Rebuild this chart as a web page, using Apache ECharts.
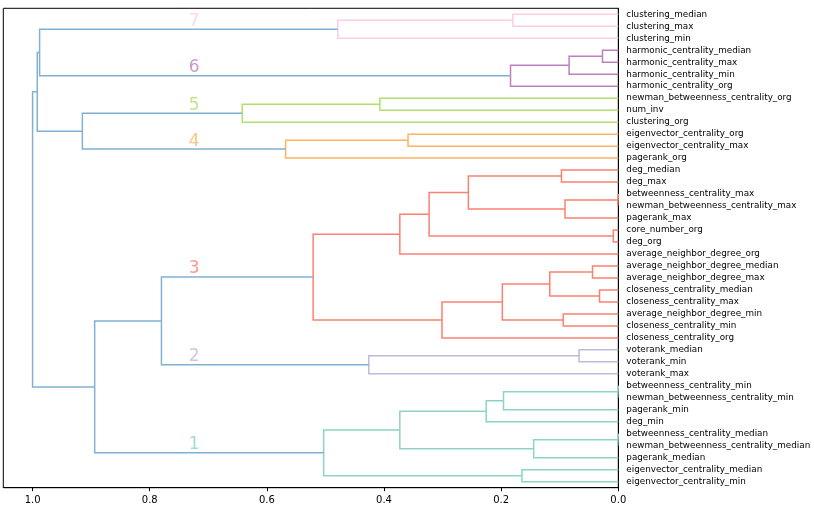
<!DOCTYPE html>
<html><head><meta charset="utf-8">
<script src="https://cdn.jsdelivr.net/npm/echarts@6/dist/echarts.min.js"></script>
<style>html,body{margin:0;padding:0;background:#fff}#c{width:814px;height:516px}</style>
</head><body><div id="c"></div>
<script>
// Leaves, listed top to bottom
const leafLabels = [
  'clustering_median','clustering_max','clustering_min',
  'harmonic_centrality_median','harmonic_centrality_max','harmonic_centrality_min','harmonic_centrality_org',
  'newman_betweenness_centrality_org','num_inv','clustering_org',
  'eigenvector_centrality_org','eigenvector_centrality_max','pagerank_org',
  'deg_median','deg_max','betweenness_centrality_max','newman_betweenness_centrality_max','pagerank_max',
  'core_number_org','deg_org','average_neighbor_degree_org',
  'average_neighbor_degree_median','average_neighbor_degree_max','closeness_centrality_median','closeness_centrality_max',
  'average_neighbor_degree_min','closeness_centrality_min','closeness_centrality_org',
  'voterank_median','voterank_min','voterank_max',
  'betweenness_centrality_min','newman_betweenness_centrality_min','pagerank_min','deg_min',
  'betweenness_centrality_median','newman_betweenness_centrality_median','pagerank_median',
  'eigenvector_centrality_median','eigenvector_centrality_min'
];
// Cluster id of each leaf
const leafCluster = [7,7,7, 6,6,6,6, 5,5,5, 4,4,4,
  3,3,3,3,3,3,3,3,3,3,3,3,3,3,3, 2,2,2, 1,1,1,1,1,1,1,1,1];
// Linkage: pairs (index < 40 = leaf, otherwise 40 + merge index) and heights
const mergePairs = [
  [0,1],[40,2],[3,4],[42,5],[43,6],[41,44],
  [7,8],[46,9],[10,11],[48,12],[47,49],[45,50],
  [13,14],[15,16],[53,17],[52,54],[18,19],[55,56],[57,20],
  [21,22],[23,24],[59,60],[25,26],[61,62],[63,27],[58,64],
  [28,29],[66,30],[65,67],
  [31,32],[69,33],[70,34],[35,36],[72,37],[71,73],[38,39],[74,75],
  [68,76],[51,77]
];
const mergeHeights = [
  0.180,0.479,0.027,0.084,0.184,0.988,
  0.407,0.642,0.359,0.568,0.915,0.992,
  0.097,0.001,0.091,0.256,0.0085,0.323,0.373,
  0.044,0.032,0.117,0.094,0.198,0.301,0.521,
  0.067,0.426,0.780,
  0.001,0.196,0.2255,0.001,0.1445,0.373,0.1645,0.503,
  0.894,1.0
];
const xTicks = [0,0.2,0.4,0.6,0.8,1.0];
const clusterColors = {1:'#8dd3c7',2:'#bebada',3:'#fb8072',4:'#fdb462',5:'#b3de69',6:'#bc80bd',7:'#fccde5'};
const aboveColor = '#80b1d3';
const colorThreshold = 0.7;
const clusterLabelX = 0.724;

const n = leafLabels.length;
const pos = [], hgt = [], cl = [];
for (let i = 0; i < n; i++) { pos[i] = 5 + 10 * i; hgt[i] = 0; cl[i] = leafCluster[i]; }
const series = [];
mergePairs.forEach(function (p, k) {
  const a = p[0], b = p[1], id = n + k, h = mergeHeights[k];
  pos[id] = (pos[a] + pos[b]) / 2; hgt[id] = h;
  cl[id] = (cl[a] !== null && cl[a] === cl[b] && h < colorThreshold) ? cl[a] : null;
  series.push({
    type: 'line', silent: true, symbol: 'none', animation: false, xAxisIndex: 0, yAxisIndex: 0,
    lineStyle: { width: 1.5, color: cl[id] !== null ? clusterColors[cl[id]] : aboveColor, cap: 'butt', join: 'miter' },
    data: [[hgt[a], pos[a]], [h, pos[a]], [h, pos[b]], [hgt[b], pos[b]]]
  });
});
// cluster number labels
Object.keys(clusterColors).forEach(function (c) {
  let best = -1;
  for (let id = n; id < pos.length; id++) if (String(cl[id]) === c && (best < 0 || hgt[id] > hgt[best])) best = id;
  if (best < 0) return;
  series.push({
    type: 'scatter', silent: true, animation: false, symbolSize: 1, xAxisIndex: 0, yAxisIndex: 0,
    itemStyle: { color: 'rgba(0,0,0,0)' },
    data: [[clusterLabelX, pos[best]]],
    label: { show: true, position: 'top', distance: 2, offset: [0, 3], formatter: String(c), color: clusterColors[c],
      fontFamily: 'DejaVu Sans', fontSize: 17 }
  });
});

const chart = echarts.init(document.getElementById('c'), null, { renderer: 'canvas' });
chart.setOption({
  backgroundColor: '#fff',
  animation: false,
  grid: { left: 3.3, right: 195.7, top: 8.3, bottom: 28.3, show: true, borderColor: '#000', borderWidth: 1, containLabel: false },
  xAxis: [{
    type: 'value', min: 0, max: 1.05, inverse: true, position: 'bottom',
    axisLine: { show: true, onZero: false, lineStyle: { color: '#000', width: 1 } },
    axisTick: { show: true, customValues: xTicks, length: 3.5, lineStyle: { color: '#000' } },
    axisLabel: { customValues: xTicks, formatter: function (v) { return v.toFixed(1); }, color: '#000', fontFamily: 'DejaVu Sans', fontSize: 10, margin: 7.5 },
    splitLine: { show: false }
  }],
  yAxis: [{
    type: 'value', min: 0, max: 400, inverse: true, show: false
  }, {
    type: 'category', data: leafLabels, inverse: true, position: 'right',
    axisLine: { show: true, onZero: false, lineStyle: { color: '#000', width: 1 } },
    axisTick: { show: false },
    axisLabel: { color: '#000', fontFamily: 'DejaVu Sans', fontSize: 8.8, margin: 8, interval: 0 },
    splitLine: { show: false }
  }],
  series: series
});
</script></body></html>
